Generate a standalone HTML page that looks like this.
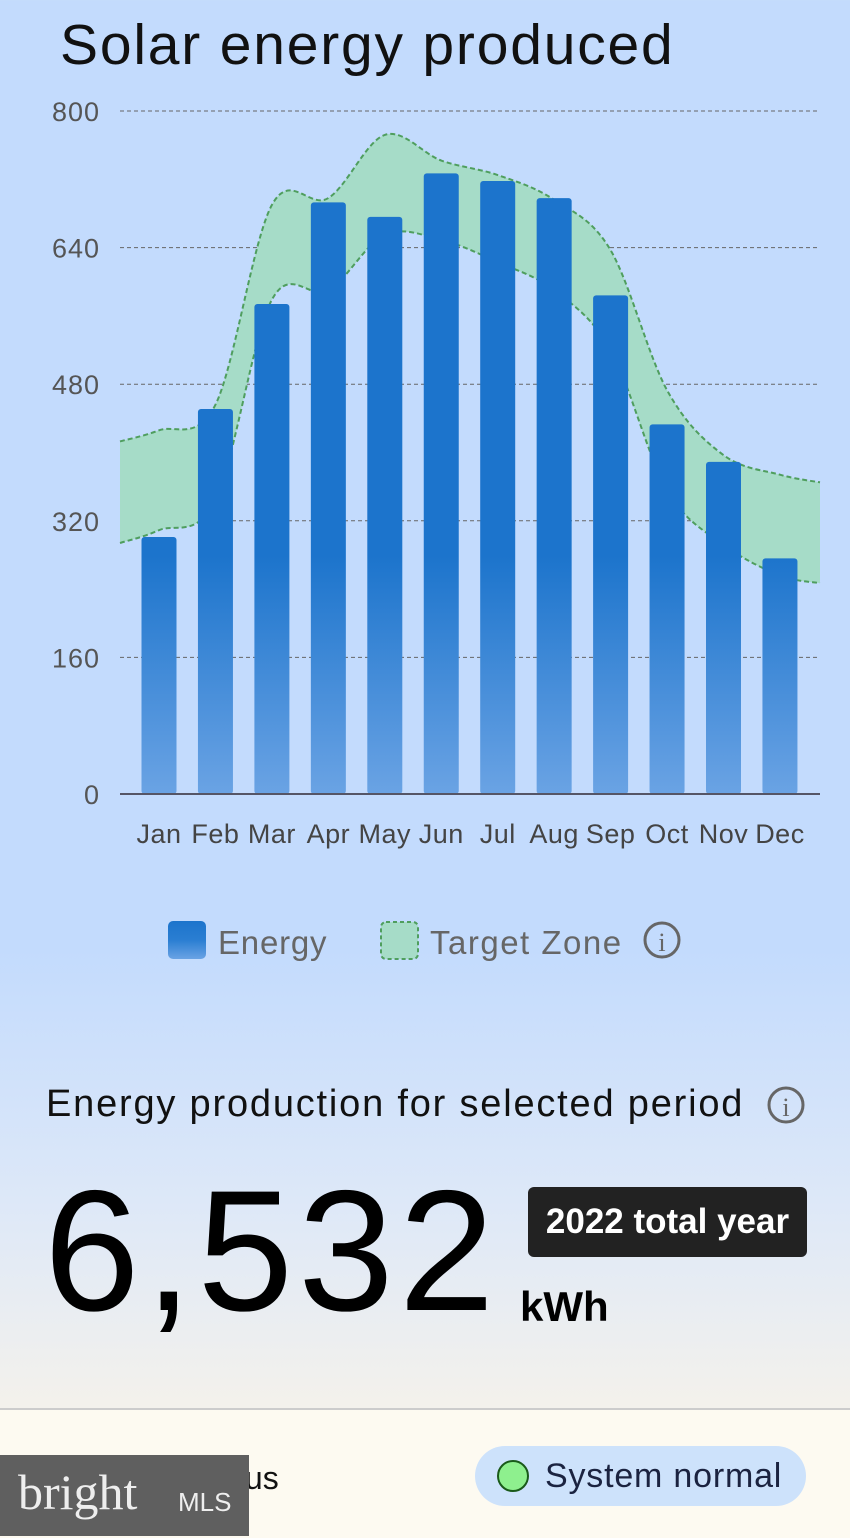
<!DOCTYPE html>
<html><head><meta charset="utf-8">
<style>
body{margin:0;width:850px;height:1536px;overflow:hidden;font-family:"Liberation Sans",sans-serif;background:linear-gradient(#c3dbfd 0px,#c3dbfd 950px,#dde8f8 1200px,#f3f1ec 1400px);position:relative}
.abs{position:absolute}
</style></head><body>
<div class="abs" style="left:60px;top:12px;font-size:57px;letter-spacing:1.8px;color:#111;">Solar energy produced</div>
<svg class="abs" style="left:0;top:0" width="850" height="1000">
<defs><linearGradient id="bg" gradientUnits="userSpaceOnUse" x1="0" y1="0" x2="0" y2="794"><stop offset="0" stop-color="#1c74cc"/><stop offset="0.7" stop-color="#1c74cc"/><stop offset="1" stop-color="#6aa3e4"/></linearGradient>
<linearGradient id="lg" x1="0" y1="0" x2="0" y2="1"><stop offset="0" stop-color="#1c74cc"/><stop offset="0.5" stop-color="#2a7ed2"/><stop offset="1" stop-color="#6aa3e4"/></linearGradient></defs>
<g id="grid"></g><path id="zone" fill="#a6dcc8" stroke="none"/><path id="up" fill="none" stroke="#4f9e5e" stroke-width="2" stroke-dasharray="5,3"/><path id="lo" fill="none" stroke="#4f9e5e" stroke-width="2" stroke-dasharray="5,3"/><g id="bars"></g>
<line x1="120" x2="820" y1="794" y2="794" stroke="#556" stroke-width="2"/>
<g id="lbl"></g>
<rect x="168" y="921" width="38" height="38" rx="5" fill="url(#lg)"/>
<text x="218" y="954" font-size="33" letter-spacing="0.8" fill="#666">Energy</text>
<rect x="381" y="922" width="37" height="37" rx="5" fill="#a6dcc8" stroke="#4f9e5e" stroke-width="2" stroke-dasharray="4,3"/>
<text x="430" y="954" font-size="33" letter-spacing="1.5" fill="#666">Target Zone</text>
<g><circle cx="662" cy="940" r="17" fill="none" stroke="#666" stroke-width="3"/><text x="662" y="951" font-size="26" text-anchor="middle" fill="#666" font-family="Liberation Serif">i</text></g>
</svg>
<div class="abs" style="left:46px;top:1083px;font-size:38px;letter-spacing:1.8px;color:#111">Energy production for selected period</div>
<svg class="abs" style="left:766px;top:1085px" width="40" height="40"><circle cx="20" cy="20" r="17" fill="none" stroke="#666" stroke-width="3"/><text x="20" y="31" font-size="26" text-anchor="middle" fill="#666" font-family="Liberation Serif">i</text></svg>
<div class="abs" style="left:44px;top:1165px;font-size:172px;color:#000;letter-spacing:5px;line-height:1">6,532</div>
<div class="abs" style="left:528px;top:1187px;width:279px;height:70px;background:#222;border-radius:6px;color:#fff;font-weight:bold;font-size:35px;line-height:70px;text-align:center">2022 total year</div>
<div class="abs" style="left:520px;top:1283px;font-size:42px;font-weight:bold;color:#000">kWh</div>
<div class="abs" style="left:0;top:1408px;width:850px;height:128px;background:#fdfaf1;border-top:2px solid #ccc"></div>
<div class="abs" style="left:188px;top:1460px;font-size:32px;color:#111">Status</div>
<div class="abs" style="left:475px;top:1446px;width:331px;height:60px;background:#cde2fb;border-radius:30px"><div style="position:absolute;left:22px;top:14px;width:28px;height:28px;border-radius:50%;background:#8ef08e;border:2px solid #1a5a1a"></div><div style="position:absolute;left:70px;top:11px;font-size:34px;letter-spacing:0.8px;color:#1b2340">System normal</div></div>
<div class="abs" style="left:0;top:1455px;width:249px;height:81px;background:#5f5f5f;color:#eee"><span style="position:absolute;left:18px;top:8px;font-family:'Liberation Serif',serif;font-size:50px">bright</span><span style="position:absolute;left:178px;top:32px;font-size:26px">MLS</span></div>
<script>
const months=["Jan","Feb","Mar","Apr","May","Jun","Jul","Aug","Sep","Oct","Nov","Dec"];
const energy=[301,451,574,693,676,727,718,698,584,433,389,276];
const targetHigh=[413,426,456,690,698,772,742,725,696,637,473,397,374,365];
const targetLow=[294,309,344,579,590,655,649,623,590,520,356,292,256,247];
const yTicks=[0,160,320,480,640,800];
const ns="http://www.w3.org/2000/svg";
const y=v=>794-v*683/800;
const xc=i=>159+i*56.45;
const zx=i=>i===0?120:(i===13?820:xc(i-1));
function mk(t,a,p){const e=document.createElementNS(ns,t);for(const k in a)e.setAttribute(k,a[k]);p.appendChild(e);return e;}
const grid=document.getElementById('grid'),bars=document.getElementById('bars'),lbl=document.getElementById('lbl');
yTicks.forEach(v=>{if(v>0){const l=mk('line',{x1:120,x2:820,y1:y(v),y2:y(v),stroke:'#666','stroke-width':1,'stroke-dasharray':'4,3'},grid);}
const t=mk('text',{x:100,y:y(v)+10,'font-size':27,'letter-spacing':1,fill:'#555','text-anchor':'end'},lbl);t.textContent=v;

});
energy.forEach((v,i)=>{const r=mk('rect',{x:xc(i)-17.5,y:y(v),width:35,height:794-y(v),rx:3,fill:'url(#bg)'},bars);


const t=mk('text',{x:xc(i),y:843,'font-size':27,'letter-spacing':0.5,fill:'#444','text-anchor':'middle'},lbl);t.textContent=months[i];

});
function seg(p){let d='';for(let i=0;i<p.length-1;i++){const a=p[Math.max(0,i-1)],b=p[i],c=p[i+1],e=p[Math.min(p.length-1,i+2)];
d+=` C${b[0]+(c[0]-a[0])/6},${b[1]+(c[1]-a[1])/6} ${c[0]-(e[0]-b[0])/6},${c[1]-(e[1]-b[1])/6} ${c[0]},${c[1]}`;}return d;}
const pu=targetHigh.map((v,i)=>[zx(i),y(v)]);
const pl=targetLow.map((v,i)=>[zx(i),y(v)]);
const upD='M'+pu[0][0]+','+pu[0][1]+seg(pu);
document.getElementById('up').setAttribute('d',upD);
document.getElementById('lo').setAttribute('d','M'+pl[0][0]+','+pl[0][1]+seg(pl));
const pr=pl.slice().reverse();
const z=document.getElementById('zone');z.setAttribute('d',upD+' L'+pr[0][0]+','+pr[0][1]+seg(pr)+' Z');


</script>
</body></html>
